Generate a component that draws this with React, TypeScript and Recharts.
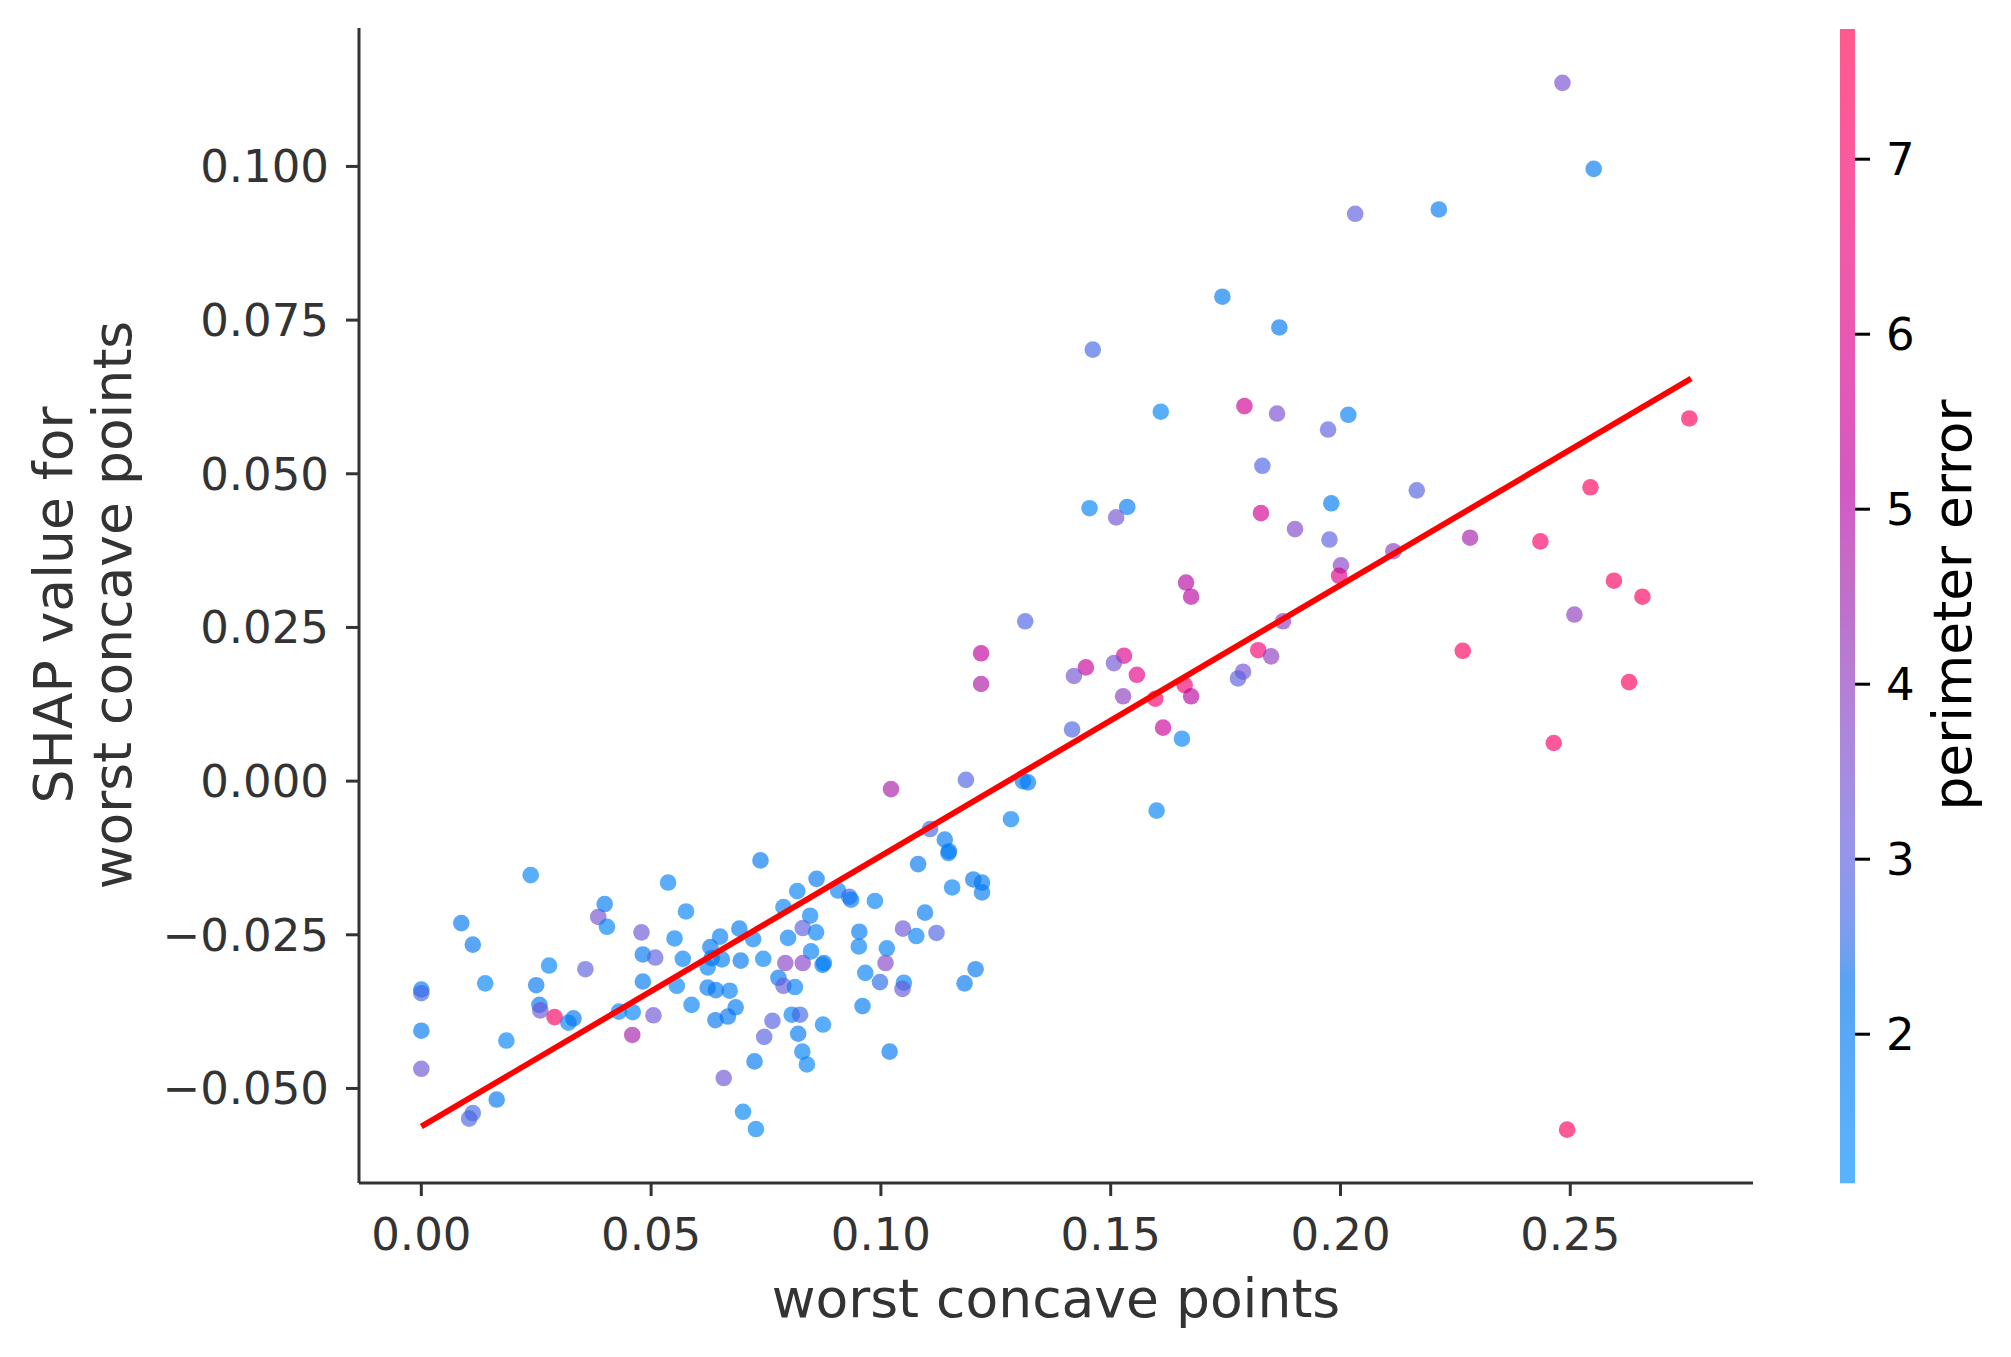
import React from 'react';
import { ScatterChart, Scatter, XAxis, YAxis } from 'recharts';

// worst concave points (x)
const worstConcavePoints = [
  0.0238, 0.0087, 0.0112, 0, 0, 0, 0, 0.0139, 0.0185, 0.0164,
  0.0112, 0.0104, 0.0278, 0.0250, 0.0257, 0.0259, 0.0290, 0.0320, 0.0331, 0.0357,
  0.0385, 0.0399, 0.0404, 0.0430, 0.0460, 0.0459, 0.0479, 0.0482, 0.0509, 0.0482,
  0.0505, 0.0537, 0.0576, 0.0551, 0.0569, 0.0556, 0.0588, 0.0623, 0.0629, 0.0632,
  0.0650, 0.0623, 0.0641, 0.0640, 0.0658, 0.0738, 0.0860, 0.0818, 0.0907, 0.0931,
  0.0935, 0.0987, 0.1081, 0.1147, 0.1155, 0.1201, 0.1220, 0.1220, 0.0788, 0.0846,
  0.0830, 0.0859, 0.0798, 0.0692, 0.0722, 0.0654, 0.0695, 0.0744, 0.0792, 0.0830,
  0.0848, 0.0873, 0.0876, 0.0671, 0.0684, 0.0667, 0.0777, 0.0788, 0.0813, 0.0764,
  0.0746, 0.0806, 0.0824, 0.0874, 0.0820, 0.0829, 0.0839, 0.0725, 0.0700, 0.0728,
  0.0953, 0.0952, 0.1013, 0.1010, 0.0966, 0.0998, 0.1050, 0.1047, 0.0960, 0.1019,
  0.1048, 0.1077, 0.1096, 0.1121, 0.1206, 0.1182, 0.1022, 0.1185, 0.1107, 0.1139,
  0.1148, 0.1283, 0.1309, 0.1320, 0.1218, 0.1218, 0.1600, 0.1743, 0.1867, 0.1461,
  0.1609, 0.1791, 0.1862, 0.1973, 0.2017, 0.1830, 0.1454, 0.1536, 0.1512, 0.1827,
  0.1901, 0.1980, 0.1976, 0.2115, 0.2001, 0.1997, 0.1664, 0.1675, 0.1314, 0.1875,
  0.1821, 0.1849, 0.1788, 0.1777, 0.1529, 0.1446, 0.1507, 0.1420, 0.1557, 0.1661,
  0.1597, 0.1527, 0.1675, 0.1416, 0.1614, 0.1655, 0.2759, 0.2166, 0.2544, 0.2282,
  0.2435, 0.2595, 0.2657, 0.2509, 0.2266, 0.2628, 0.2464, 0.2493, 0.2483, 0.2551,
  0.2032, 0.2214,
];

// SHAP value for worst concave points (y)
const shapValues = [
  -0.0153, -0.0231, -0.0266, -0.0339, -0.0345, -0.0406, -0.0468, -0.0329, -0.0422, -0.0518,
  -0.0540, -0.0549, -0.0300, -0.0332, -0.0364, -0.0373, -0.0384, -0.0393, -0.0386, -0.0306,
  -0.0221, -0.0200, -0.0237, -0.0375, -0.0376, -0.0413, -0.0246, -0.0282, -0.0287, -0.0326,
  -0.0381, -0.0165, -0.0212, -0.0256, -0.0289, -0.0333, -0.0364, -0.0303, -0.0270, -0.0288,
  -0.0253, -0.0336, -0.0340, -0.0389, -0.0483, -0.0129, -0.0159, -0.0179, -0.0178, -0.0188,
  -0.0193, -0.0195, -0.0135, -0.0117, -0.0173, -0.0160, -0.0165, -0.0181, -0.0205, -0.0219,
  -0.0239, -0.0246, -0.0255, -0.0240, -0.0257, -0.0290, -0.0292, -0.0289, -0.0296, -0.0296,
  -0.0277, -0.0299, -0.0296, -0.0341, -0.0368, -0.0383, -0.0320, -0.0333, -0.0335, -0.0390,
  -0.0416, -0.0380, -0.0380, -0.0396, -0.0411, -0.0440, -0.0461, -0.0456, -0.0538, -0.0566,
  -0.0245, -0.0269, -0.0272, -0.0296, -0.0312, -0.0327, -0.0328, -0.0338, -0.0366, -0.0440,
  -0.0240, -0.0252, -0.0214, -0.0247, -0.0306, -0.0329, -0.0013, 0.0002, -0.0078, -0.0095,
  -0.0114, -0.0062, 0.0000, -0.0002, 0.0208, 0.0158, -0.0048, 0.0788, 0.0738, 0.0702,
  0.0601, 0.0610, 0.0598, 0.0572, 0.0596, 0.0513, 0.0444, 0.0446, 0.0429, 0.0436,
  0.0410, 0.0452, 0.0393, 0.0374, 0.0351, 0.0334, 0.0323, 0.0300, 0.0260, 0.0260,
  0.0213, 0.0203, 0.0178, 0.0167, 0.0204, 0.0185, 0.0192, 0.0171, 0.0173, 0.0156,
  0.0134, 0.0138, 0.0138, 0.0084, 0.0087, 0.0069, 0.0590, 0.0473, 0.0478, 0.0396,
  0.0390, 0.0326, 0.0300, 0.0271, 0.0212, 0.0161, 0.0062, -0.0567, 0.1136, 0.0996,
  0.0923, 0.0930,
];

// perimeter error (colour)
const perimeterError = [
  1.6, 2.1, 2.1, 2.0, 2.7, 2.1, 3.3, 1.5, 1.6, 2.1,
  2.7, 2.8, 1.5, 2.1, 2.0, 3.3, 7.2, 1.6, 2.1, 3.0,
  3.4, 2.0, 1.5, 1.6, 1.6, 4.6, 3.3, 2.1, 3.0, 2.0,
  3.3, 1.6, 1.6, 1.7, 1.7, 1.6, 1.7, 1.6, 2.1, 2.1,
  1.8, 2.0, 2.0, 2.1, 3.3, 2.1, 2.1, 1.6, 1.7, 2.6,
  2.0, 1.5, 2.1, 1.7, 1.7, 2.1, 2.1, 2.0, 1.6, 1.6,
  3.0, 1.7, 1.7, 2.0, 1.7, 1.8, 2.1, 1.5, 3.8, 3.8,
  1.7, 1.6, 1.9, 1.7, 2.0, 2.1, 2.1, 3.2, 1.7, 2.9,
  2.9, 1.6, 2.7, 1.6, 1.9, 1.7, 1.5, 2.0, 1.5, 1.5,
  2.0, 1.7, 1.7, 3.7, 1.7, 2.5, 1.6, 3.2, 1.9, 2.1,
  3.3, 1.7, 2.0, 2.8, 2.0, 2.1, 4.7, 2.8, 2.7, 2.0,
  1.9, 1.7, 1.9, 2.0, 5.3, 4.8, 1.5, 2.0, 2.1, 2.7,
  1.5, 5.6, 3.5, 3.0, 1.8, 2.8, 1.5, 1.9, 3.4, 5.6,
  3.7, 2.0, 3.0, 3.9, 3.8, 6.0, 5.0, 5.0, 2.8, 4.0,
  6.8, 4.0, 3.4, 3.0, 6.0, 5.4, 3.4, 3.4, 6.1, 6.8,
  6.9, 4.0, 5.0, 2.8, 5.5, 1.6, 7.4, 2.9, 7.3, 4.6,
  7.1, 7.2, 7.3, 4.0, 7.2, 7.4, 7.1, 7.4, 3.5, 2.0,
  3.0, 2.0,
];

// fitted line end points
const fitX = [0, 0.2763];
const fitY = [-0.0562, 0.0655];

const xTicks = [0, 0.05, 0.1, 0.15, 0.2, 0.25];
const yTicks = [-0.05, -0.025, 0, 0.025, 0.05, 0.075, 0.1];
const colorTicks = [2, 3, 4, 5, 6, 7];
const colorRange = [1.148, 7.744];

const xDomain = [-0.01356, 0.28976];
const yDomain = [-0.06538, 0.12252];

const points = worstConcavePoints.map((x, i) => ({ x, y: shapValues[i], pe: perimeterError[i] }));
const fitData = fitX.map((x, i) => ({ x, y: fitY[i] }));

// SHAP red_blue colormap (LCH interpolation)
function shapColor(v: number): string {
  let t = (v - colorRange[0]) / (colorRange[1] - colorRange[0]);
  t = Math.max(0, Math.min(1, t));
  const blue = [54, 70, 4.6588];
  const red = [54, 90, 0.35470565 + 2 * Math.PI];
  const lMid = 40;
  const L = t < 0.5 ? blue[0] + (lMid - blue[0]) * (t / 0.5) : lMid + (red[0] - lMid) * ((t - 0.5) / 0.5);
  const C = blue[1] + (red[1] - blue[1]) * t;
  const H = blue[2] + (red[2] - blue[2]) * t;
  const a = C * Math.cos(H);
  const b = C * Math.sin(H);
  const fy = (L + 16) / 116;
  const fx = fy + a / 500;
  const fz = fy - b / 200;
  const finv = (f: number) => (f * f * f > 0.008856 ? f * f * f : (f - 16 / 116) / 7.787);
  const X = 0.95047 * finv(fx);
  const Y = finv(fy);
  const Z = 1.08883 * finv(fz);
  const r = 3.2406 * X - 1.5372 * Y - 0.4986 * Z;
  const g = -0.9689 * X + 1.8758 * Y + 0.0415 * Z;
  const bl = 0.0557 * X - 0.204 * Y + 1.057 * Z;
  const gam = (u: number) => {
    const c = Math.max(0, Math.min(1, u));
    return c <= 0.0031308 ? 12.92 * c : 1.055 * Math.pow(c, 1 / 2.4) - 0.055;
  };
  return `rgb(${Math.round(gam(r) * 255)},${Math.round(gam(g) * 255)},${Math.round(gam(bl) * 255)})`;
}

const FONT = 'DejaVu Sans';
const AXIS = '#333333';

const fmtX = (v: number) => v.toFixed(2);
const fmtY = (v: number) => v.toFixed(3).replace('-', '\u2212');

const Dot = (props: any) => {
  const { cx, cy, payload } = props;
  if (cx == null || cy == null) return <g />;
  return <circle cx={cx} cy={cy} r={8.3} fill={shapColor(payload.pe)} fillOpacity={0.65} />;
};

const NoDot = () => <g />;

// colorbar geometry
const CB_X = 1840;
const CB_W = 15;
const CB_TOP = 29;
const CB_BOTTOM = 1183.3;
const cbY = (v: number) => CB_BOTTOM - ((v - colorRange[0]) / (colorRange[1] - colorRange[0])) * (CB_BOTTOM - CB_TOP);

const gradStops = Array.from({ length: 41 }, (_, i) => i / 40);

export default function App() {
  return (
    <div style={{ position: 'absolute', left: 0, top: 0, width: 2011, height: 1357, background: '#fff' }}>
      <div style={{ position: 'absolute', left: 0, top: 0 }}>
        <ScatterChart width={2011} height={1357} margin={{ top: 28, right: 258, bottom: 0, left: 0 }}>
          <XAxis
            type="number"
            dataKey="x"
            domain={xDomain}
            allowDataOverflow
            ticks={xTicks}
            tickFormatter={fmtX}
            height={174}
            tickSize={13}
            tickMargin={22}
            axisLine={{ stroke: AXIS, strokeWidth: 3 }}
            tickLine={{ stroke: AXIS, strokeWidth: 3 }}
            tick={{ fill: AXIS, fontSize: 45, fontFamily: FONT }}
            interval={0}
          />
          <YAxis
            type="number"
            dataKey="y"
            domain={yDomain}
            allowDataOverflow
            ticks={yTicks}
            tickFormatter={fmtY}
            width={359}
            tickSize={13}
            tickMargin={17}
            axisLine={{ stroke: AXIS, strokeWidth: 3 }}
            tickLine={{ stroke: AXIS, strokeWidth: 3 }}
            tick={{ fill: AXIS, fontSize: 45, fontFamily: FONT }}
            interval={0}
          />
          <Scatter data={points} shape={Dot} isAnimationActive={false} />
          <Scatter
            data={fitData}
            shape={NoDot}
            line={{ stroke: '#ff0000', strokeWidth: 5.8 }}
            isAnimationActive={false}
          />
        </ScatterChart>
      </div>
      <svg
        width={2011}
        height={1357}
        style={{ position: 'absolute', left: 0, top: 0, pointerEvents: 'none' }}
        fontFamily={FONT}
      >
        <defs>
          <linearGradient id="cbGrad" x1="0" y1="1" x2="0" y2="0">
            {gradStops.map((s) => (
              <stop
                key={s}
                offset={s}
                stopColor={shapColor(colorRange[0] + s * (colorRange[1] - colorRange[0]))}
                stopOpacity={0.65}
              />
            ))}
          </linearGradient>
        </defs>
        {/* x label */}
        <text x={1056} y={1317} textAnchor="middle" fontSize={53.5} fill={AXIS}>
          worst concave points
        </text>
        {/* y label */}
        <text transform="translate(72,605) rotate(-90)" textAnchor="middle" fontSize={53.5} fill={AXIS}>
          SHAP value for
        </text>
        <text transform="translate(131,605) rotate(-90)" textAnchor="middle" fontSize={53.5} fill={AXIS}>
          worst concave points
        </text>
        {/* colorbar */}
        <rect x={CB_X} y={CB_TOP} width={CB_W} height={CB_BOTTOM - CB_TOP} fill="url(#cbGrad)" />
        {colorTicks.map((t) => (
          <g key={t}>
            <line x1={CB_X + CB_W} x2={CB_X + CB_W + 15} y1={cbY(t)} y2={cbY(t)} stroke="#000" strokeWidth={3} />
            <text x={1886} y={cbY(t)} dominantBaseline="central" fontSize={45} fill="#000">
              {t}
            </text>
          </g>
        ))}
        <text transform="translate(1971,605) rotate(-90)" textAnchor="middle" fontSize={53.5} fill="#000">
          perimeter error
        </text>
      </svg>
    </div>
  );
}
